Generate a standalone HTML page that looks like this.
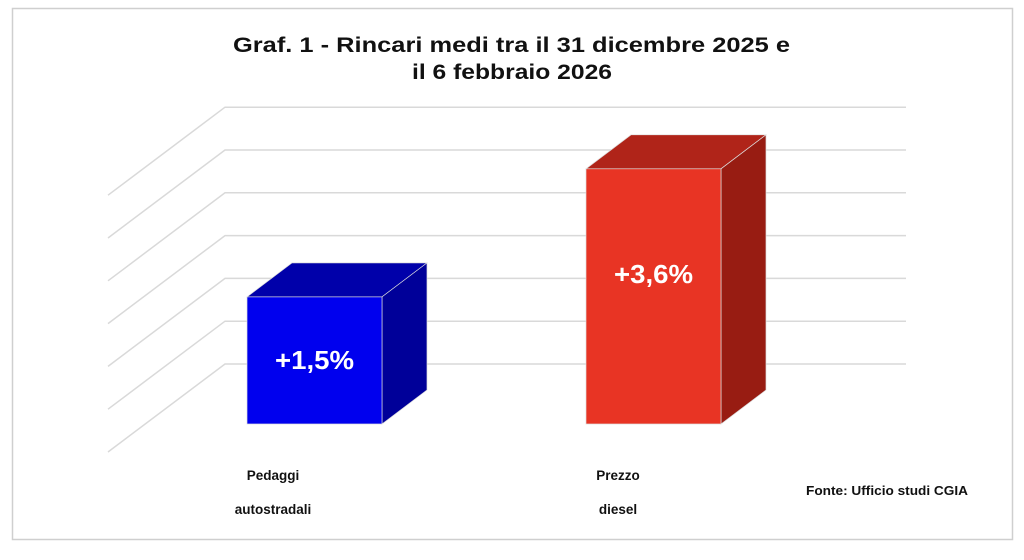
<!DOCTYPE html>
<html><head><meta charset="utf-8"><style>
body{margin:0;background:#fff;}
svg{display:block;font-family:"Liberation Sans",sans-serif;}
</style></head><body>
<svg width="1024" height="560" viewBox="0 0 1024 560">
<rect x="12.5" y="8.5" width="1000" height="531" fill="#fff" stroke="#cfcfcf" stroke-width="1.5"/>
<text x="233" y="52" textLength="557" lengthAdjust="spacingAndGlyphs" font-size="21" font-weight="bold" fill="#111">Graf. 1 - Rincari medi tra il 31 dicembre 2025 e</text>
<text x="412" y="79" textLength="200" lengthAdjust="spacingAndGlyphs" font-size="21" font-weight="bold" fill="#111">il 6 febbraio 2026</text>
<g id="grid"></g>
<g id="bars"></g>
<text x="806" y="495" textLength="162" lengthAdjust="spacingAndGlyphs" font-size="13" font-weight="bold" fill="#111">Fonte: Ufficio studi CGIA</text>
</svg>
<script>
const categories = ["Pedaggi|autostradali", "Prezzo|diesel"];
const values = [1.5, 3.6];
const labels = ["+1,5%", "+3,6%"];
const gridCount = 7;

const NS = "http://www.w3.org/2000/svg";
const baseY = 424;
function yScale(v){ return 388.4 - 61 * v; }
function xScale(i){ return 247 + i * 339; }
const barW = 135, dx = 45, dy = -34;
const colors = [["#0000ee","#0000aa","#000099"],["#e83424","#b02419","#981c12"]];

const grid = document.getElementById('grid');
for (let i = 0; i < gridCount; i++) {
  const y = 364 - i * 42.8;
  const p = document.createElementNS(NS, 'polyline');
  p.setAttribute('points', `108,${y+88} 225,${y} 906,${y}`);
  p.setAttribute('fill', 'none');
  p.setAttribute('stroke', '#d9d9d9');
  p.setAttribute('stroke-width', '1.5');
  
  
  grid.appendChild(p);
}

const bars = document.getElementById('bars');
values.forEach((v, i) => {
  const x = xScale(i), yt = yScale(v), c = colors[i];
  const g = document.createElementNS(NS, 'g');
  
  
  const top = document.createElementNS(NS, 'polygon');
  top.setAttribute('points', `${x},${yt} ${x+dx},${yt+dy} ${x+barW+dx},${yt+dy} ${x+barW},${yt}`);
  top.setAttribute('fill', c[1]); top.setAttribute('stroke', '#ddd'); top.setAttribute('stroke-width', '0.7');
  
  
  g.appendChild(top);
  const side = document.createElementNS(NS, 'polygon');
  side.setAttribute('points', `${x+barW},${yt} ${x+barW+dx},${yt+dy} ${x+barW+dx},${baseY+dy} ${x+barW},${baseY}`);
  side.setAttribute('fill', c[2]); side.setAttribute('stroke', '#ddd'); side.setAttribute('stroke-width', '0.7');
  
  
  g.appendChild(side);
  const front = document.createElementNS(NS, 'rect');
  front.setAttribute('x', x); front.setAttribute('y', yt);
  front.setAttribute('width', barW); front.setAttribute('height', baseY - yt);
  front.setAttribute('fill', c[0]); front.setAttribute('stroke', '#ddd'); front.setAttribute('stroke-width', '0.7');
  
  
  g.appendChild(front);
  const t = document.createElementNS(NS, 'text');
  t.setAttribute('x', x + barW/2); t.setAttribute('y', i === 0 ? 369 : 283);
  t.setAttribute('text-anchor', 'middle'); t.setAttribute('font-size', '26');
  t.setAttribute('font-weight', 'bold'); t.setAttribute('fill', '#fff');
  t.setAttribute('textLength', '79'); t.setAttribute('lengthAdjust', 'spacingAndGlyphs');
  
  
  t.textContent = labels[i];
  g.appendChild(t);
  const parts = categories[i].split('|');
  parts.forEach((s, j) => {
    const ct = document.createElementNS(NS, 'text');
    ct.setAttribute('x', i === 0 ? 273 : 618); ct.setAttribute('y', 480 + j * 34);
    ct.setAttribute('text-anchor', 'middle'); ct.setAttribute('font-size', '13.5');
    ct.setAttribute('font-weight', 'bold'); ct.setAttribute('fill', '#111');
    
    
    ct.textContent = s;
    g.appendChild(ct);
  });
  bars.appendChild(g);
});
</script>
</body></html>
